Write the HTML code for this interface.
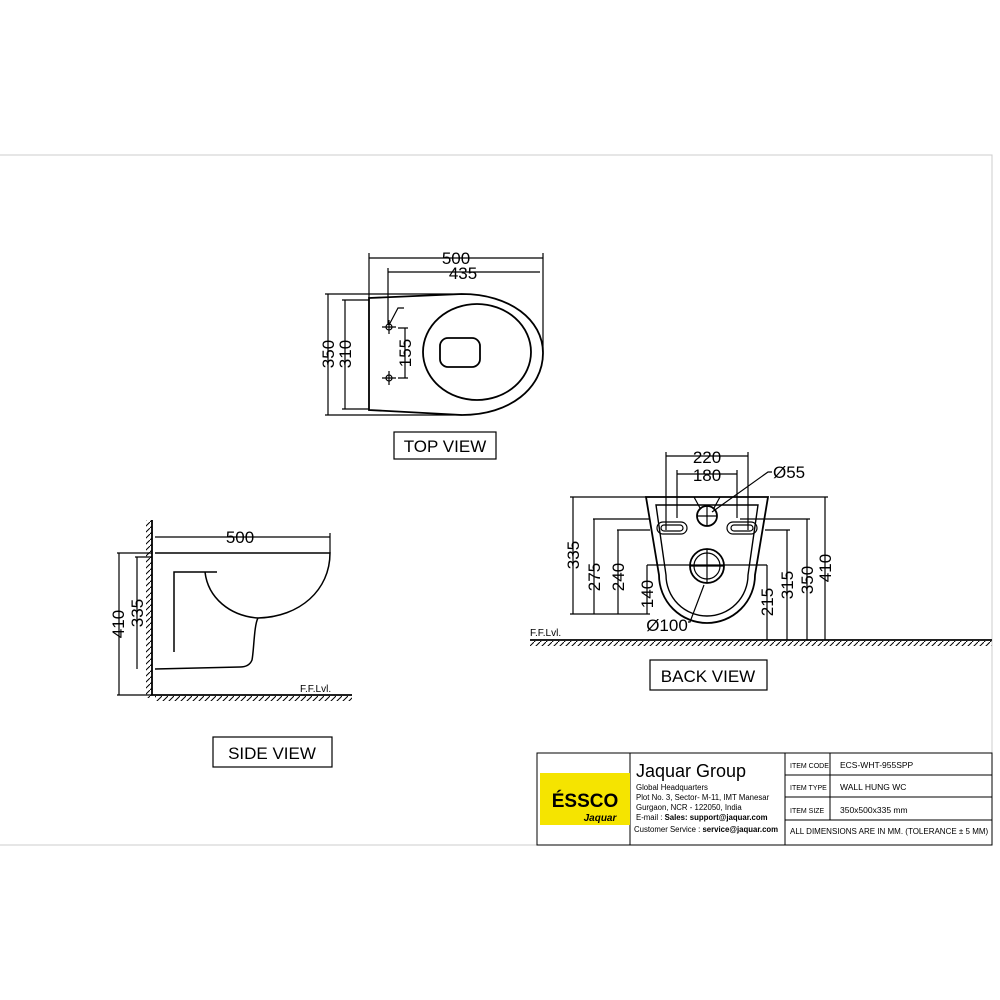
<!DOCTYPE html><html><head><style>body{margin:0;background:#fff}svg{display:block}text{font-family:"Liberation Sans",sans-serif;fill:#000}</style></head><body>
<svg width="1000" height="1000" viewBox="0 0 1000 1000" xmlns="http://www.w3.org/2000/svg">
<defs><pattern id="h" width="6" height="6" patternUnits="userSpaceOnUse"><path d="M0 6L6 0" stroke="#000" stroke-width="1"/></pattern></defs>
<g stroke="#ccc" stroke-width="1" fill="none"><path d="M0 155H992V845H0"/></g>
<g stroke="#000" fill="none" stroke-width="1.2">
<path d="M369 298L462 294C510 294 543 320 543 353C543 388 510 415 462 415L369 410Z" stroke-width="1.8"/>
<ellipse cx="477" cy="352" rx="54" ry="48" stroke-width="1.8"/>
<rect x="440" y="338" width="40" height="29" rx="8" stroke-width="1.8"/>
<path d="M369 253V298M543 253V352M388 268V325M325 294H462M325 415H462M342 300H369M342 409H369M328 294V415M345 300V409M398 328H408M398 378H408M405 328V378M389 325L398 308H404"/>
<path d="M369 258H543M388 272H540"/>
<circle cx="389" cy="327" r="3"/><circle cx="389" cy="378" r="3"/>
<path d="M382 327H396M389 320V334M382 378H396M389 371V385"/>
<rect x="394" y="432" width="102" height="27"/>
<path d="M646 497H768L755 575A48 48 0 0 1 659 575Z" stroke-width="1.8"/>
<path d="M656 505H758L748 575A41 41 0 0 1 666 575Z" stroke-width="1.4"/>
<path d="M694 497L700 508M720 497L714 508"/>
<circle cx="707" cy="516" r="10" stroke-width="1.8"/><path d="M697 516H717M707 506V526"/>
<circle cx="707" cy="566" r="17" stroke-width="1.8"/><circle cx="707" cy="566" r="13"/><path d="M690 566H724M707 549V583"/>
<rect x="657" y="522" width="30" height="12" rx="6"/><rect x="661" y="525" width="22" height="6" rx="3"/>
<rect x="727" y="522" width="30" height="12" rx="6"/><rect x="731" y="525" width="22" height="6" rx="3"/>
<path d="M666 452V530M748 452V530M677 470V518M737 470V518M666 456H748M677 474H737M712 512L768 472H772"/>
<path d="M570 497H650M593 519H650M617 530H650M647 565H767M570 614H650M770 497H828M740 519H810M765 530H790"/>
<path d="M573 497V614M594 519V614M618 530V614M647 565V614M767 565V640M787 530V640M807 519V640M825 497V640"/>
<path d="M704 585L690 622H688"/>
<path d="M530 640H992" stroke-width="1.8"/>
<rect x="650" y="660" width="117" height="30"/>
<path d="M152 520V695H352" stroke-width="1.8"/>
<path d="M155 553H330C330 590 300 617 258 618C230 616 208 598 205 572H217M205 572H174V652M258 618C254 625 254 650 252 660C250 665 246 667 240 667L155 669" stroke-width="1.5"/>
<path d="M155 537H330M330 533V553M117 553H152M135 557H152M117 695H152M119 553V695M137 557V669"/>
<rect x="213" y="737" width="119" height="30"/>
</g>
<rect x="530" y="641" width="462" height="5" fill="url(#h)"/>
<rect x="155" y="696" width="197" height="5" fill="url(#h)"/>
<rect x="146" y="520" width="6" height="178" fill="url(#h)"/>
<g font-size="17" text-anchor="middle" style="font-weight:500">
<text x="456" y="264">500</text><text x="463" y="279">435</text>
<text transform="translate(334,354) rotate(-90)">350</text>
<text transform="translate(351,354) rotate(-90)">310</text>
<text transform="translate(411,353) rotate(-90)">155</text>
<text x="445" y="452">TOP VIEW</text>
<text x="707" y="463">220</text><text x="707" y="481">180</text>
<text x="773" y="478" text-anchor="start">Ø55</text>
<text transform="translate(579,555) rotate(-90)">335</text>
<text transform="translate(600,577) rotate(-90)">275</text>
<text transform="translate(624,577) rotate(-90)">240</text>
<text transform="translate(653,594) rotate(-90)">140</text>
<text transform="translate(773,602) rotate(-90)">215</text>
<text transform="translate(793,585) rotate(-90)">315</text>
<text transform="translate(813,580) rotate(-90)">350</text>
<text transform="translate(831,568) rotate(-90)">410</text>
<text x="667" y="631">Ø100</text>
<text x="708" y="682">BACK VIEW</text>
<text x="240" y="543">500</text>
<text transform="translate(124,624) rotate(-90)">410</text>
<text transform="translate(143,613) rotate(-90)">335</text>
<text x="272" y="759">SIDE VIEW</text>
</g>
<text x="530" y="636" font-size="10">F.F.Lvl.</text>
<text x="300" y="692" font-size="10">F.F.Lvl.</text>
<g stroke="#000" fill="none" stroke-width="1">
<rect x="537" y="753" width="455" height="92"/>
<path d="M630 753V845M785 753V845M830 753V820M785 775H992M785 797H992M785 820H992"/>
</g>
<rect x="540" y="773" width="90" height="52" fill="#f5e400"/>
<text x="585" y="807" font-size="19" font-weight="bold" text-anchor="middle" fill="#333">ÉSSCO</text>
<text x="600" y="821" font-size="10" font-style="italic" font-weight="bold" text-anchor="middle">Jaquar</text>
<text x="636" y="777" font-size="18">Jaquar Group</text>
<g font-size="7.8"><text x="636" y="790">Global Headquarters</text><text x="636" y="800">Plot No. 3, Sector- M-11, IMT Manesar</text><text x="636" y="810">Gurgaon, NCR - 122050, India</text><text x="636" y="820">E-mail : <tspan font-weight="bold">Sales: support@jaquar.com</tspan></text><text x="634" y="832">Customer Service : <tspan font-weight="bold">service@jaquar.com</tspan></text></g>
<g font-size="7" style="font-family:'Liberation Serif',serif" fill="#555"><text x="790" y="768">ITEM CODE</text><text x="790" y="790">ITEM TYPE</text><text x="790" y="813">ITEM SIZE</text></g>
<g font-size="8.5"><text x="840" y="768">ECS-WHT-955SPP</text><text x="840" y="790">WALL HUNG WC</text><text x="840" y="813">350x500x335   mm</text><text x="790" y="834" font-size="8">ALL DIMENSIONS ARE IN MM. (TOLERANCE ± 5 MM)</text></g>
</svg></body></html>
